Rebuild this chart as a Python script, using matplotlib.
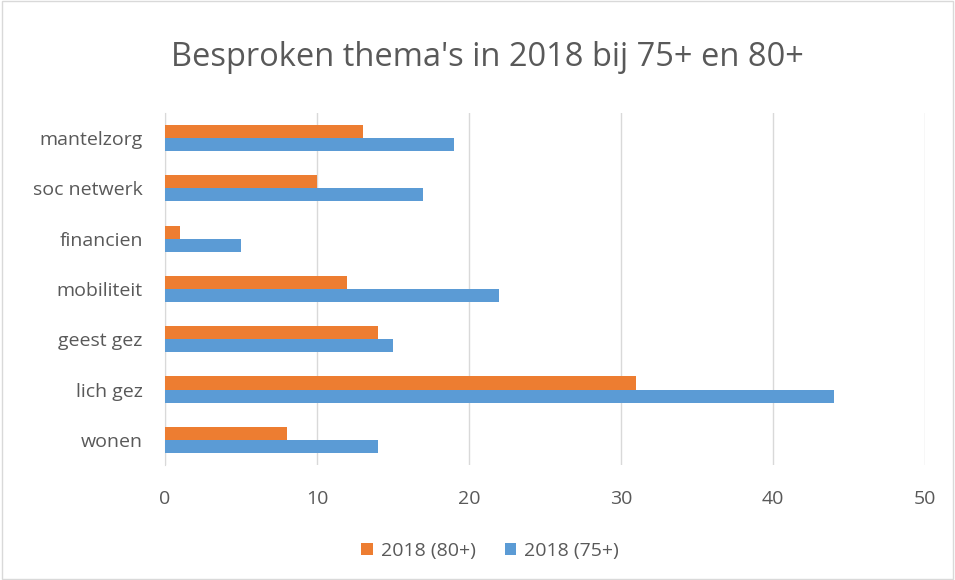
import matplotlib.pyplot as plt
import numpy as np
from matplotlib.patches import Rectangle

plt.rcParams['font.family'] = ['Open Sans', 'DejaVu Sans']

categories = ['wonen', 'lich gez', 'geest gez', 'mobiliteit', 'financien', 'soc netwerk', 'mantelzorg']
vals_80 = [8, 31, 14, 12, 1, 10, 13]
vals_75 = [14, 44, 15, 22, 5, 17, 19]

text_col = '#595959'
fig = plt.figure(figsize=(9.55, 5.8), dpi=100)
ax = fig.add_axes([0.1728, 0.1983, 0.7958, 0.6069])

y = np.arange(len(categories))
h = 0.26
ax.barh(y + h / 2, vals_80, height=h, color='#ED7D31', label='2018 (80+)', zorder=3)
ax.barh(y - h / 2, vals_75, height=h, color='#5B9BD5', label='2018 (75+)', zorder=3)

ax.set_xlim(0, 50)
ax.set_ylim(-0.5, len(categories) - 0.5)
ax.set_xticks(range(0, 51, 10))
ax.set_yticks(y)
ax.set_yticklabels(categories)
ax.tick_params(length=0, labelsize=14, colors=text_col)
ax.tick_params(axis='y', pad=16)
ax.tick_params(axis='x', pad=18)
ax.grid(axis='x', color='#D9D9D9', linewidth=1, zorder=0)
for s in ['top', 'right', 'bottom']:
    ax.spines[s].set_visible(False)
ax.spines['left'].set_color('#D9D9D9')

fig.text(0.51, 0.9, "Besproken thema's in 2018 bij 75+ en 80+", ha='center', va='center',
         fontsize=23.5, color=text_col)

fig.legend(loc='center', bbox_to_anchor=(0.513, 0.05), ncol=2, frameon=False,
           fontsize=14, labelcolor=text_col, handlelength=0.6, handleheight=0.6,
           columnspacing=1.5, handletextpad=0.4)

fig.patches.append(Rectangle((0.002, 0.002), 0.996, 0.996, transform=fig.transFigure,
                             fill=False, edgecolor='#D9D9D9', linewidth=1))

fig.savefig('out.png', dpi=100)
